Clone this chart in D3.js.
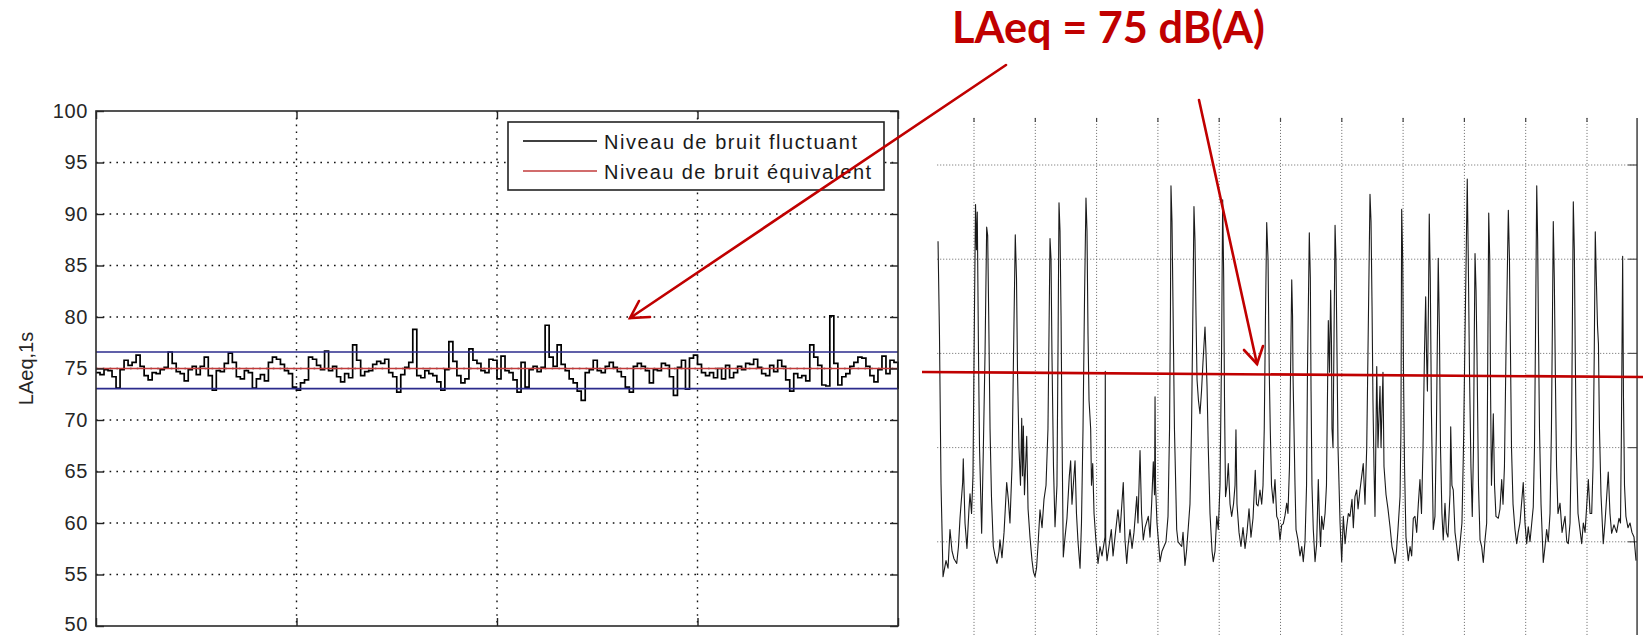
<!DOCTYPE html>
<html><head><meta charset="utf-8">
<script src="https://cdn.jsdelivr.net/npm/d3@7"></script>
<style>body{margin:0;background:#fff}svg{display:block}</style>
</head><body><svg id="c" width="1643" height="635"></svg>
<script>
// ---------- DATA ----------
const titleText = "LAeq = 75 dB(A)";
const yAxisLabel = "LAeq,1s";
const legendLabels = ["Niveau de bruit fluctuant", "Niveau de bruit équivalent"];
const leftYTicks = [50,55,60,65,70,75,80,85,90,95,100];
const leftXTicks = [0,50,100,150,200];
const equivalentLevel = 75;
const bandUpper = 76.6;
const bandLower = 73.05;
// LAeq,1s fluctuating level (1 value per step)
const fluctuating = [
74.6,74.4,74.9,74.8,74.2,73.1,74.9,75.8,75.3,75.6,
76.3,75.2,74.3,73.9,74.6,74.5,74.9,75.1,76.6,75.5,
74.7,74.5,73.8,74.9,75.2,74.4,75.2,76.1,74.3,72.9,
74.8,74.7,75.5,76.5,75.6,74.2,74.0,74.8,74.6,73.1,
74.0,74.4,73.8,75.6,76.1,75.9,75.4,74.8,74.5,73.2,
72.9,73.6,73.9,76.1,75.9,75.3,74.9,76.7,74.8,75.2,
74.2,73.7,74.5,74.1,77.3,75.8,74.3,74.7,
74.8,75.4,75.7,75.5,75.9,74.6,74.2,72.7,74.4,75.1,
75.6,78.8,74.3,74.1,74.8,74.5,74.3,73.7,72.9,74.9,
77.6,75.7,74.3,73.6,74.0,76.9,75.8,75.5,74.8,74.6,
75.9,75.8,74.0,76.2,74.8,74.6,73.9,72.7,75.6,73.2,
74.9,75.2,74.7,75.1,79.2,76.1,75.2,77.3,75.4,74.8,
74.0,73.6,72.8,71.9,74.6,74.9,75.8,74.8,74.6,75.2,
75.6,75.1,74.7,74.2,73.2,72.7,75.2,
75.5,75.2,74.8,73.6,74.9,74.8,75.5,75.3,74.2,72.4,
75.1,75.8,73.0,76.0,76.3,75.4,74.6,74.3,74.6,74.1,
75.0,74.0,75.3,74.1,74.6,75.2,74.9,75.5,75.4,75.9,
75.1,74.5,74.3,75.3,74.7,75.8,75.2,73.9,72.8,74.5,
74.1,74.3,73.8,77.3,76.1,75.3,73.4,73.3,80.1,75.5,
73.4,74.2,74.5,75.2,75.6,76.1,76.0,75.2,74.3,73.7,
74.9,76.2,74.5,75.8,75.6,73.0
];
// Right panel: time (s) and level (dB)
const rightGridT = [60,120,180,240,300,360,420,480,540,600,660];
const rightGridV = [60,70,80,90,100];
const rightStartT = 24, rightEndT = 709, rightTopV = 105;
const rightTime = [
24.8,26.2,27.7,29.7,32.6,34.6,36.5,38.5,40.4,43.1,
44.8,46.3,48.9,49.5,51.2,53.1,55.1,56.1,57.6,59.0,
60.5,61.5,62.4,63.2,64.4,65.4,67.5,69.1,70.8,72.4,
73.4,74.4,75.7,77.1,78.9,80.6,82.5,84.5,85.4,87.4,
89.4,92.0,93.6,95.2,97.2,98.7,100.4,101.6,102.6,104.0,
105.5,106.7,107.5,108.3,109.4,111.6,112.9,114.8,116.8,118.2,
119.7,121.2,122.6,124.6,126.6,128.5,130.5,132.4,133.4,134.4,
135.4,136.3,137.8,139.3,141.2,142.2,143.2,144.2,145.2,146.1,
147.4,149.1,151.0,153.3,154.6,155.9,158.9,160.3,161.8,163.8,
165.2,166.7,168.2,169.6,170.6,171.6,172.6,174.2,175.0,176.2,
177.5,179.4,181.4,183.3,185.3,187.2,188.2,188.5,188.9,190.2,
192.1,194.4,196.1,198.0,200.9,202.9,206.1,207.8,209.5,210.7,
212.7,214.7,216.6,219.3,220.5,222.5,224.0,225.7,227.4,230.6,
232.3,233.9,235.5,236.7,237.2,237.7,239.1,242.1,244.0,247.9,
249.9,251.4,252.3,252.8,253.8,254.8,256.2,258.4,259.7,263.3,
264.6,266.5,268.0,269.8,271.4,272.9,274.4,275.3,276.3,277.3,
278.3,279.7,281.2,282.7,284.1,286.1,287.1,288.1,289.3,291.0,
293.0,294.2,295.9,297.6,299.1,300.8,302.3,303.4,304.4,305.2,
306.2,307.6,308.9,310.6,312.2,314.0,315.5,316.4,317.4,319.4,
321.3,323.3,325.3,327.2,329.2,331.1,333.1,335.3,336.5,338.0,
339.9,341.6,342.9,344.1,345.3,346.5,347.8,349.0,350.0,351.2,
352.9,354.6,356.3,357.8,359.5,361.2,362.7,364.4,366.1,367.3,
368.8,369.6,371.0,371.8,372.2,373.2,374.2,375.2,377.1,379.1,
380.8,382.3,384.0,385.5,386.4,388.2,389.2,389.9,390.8,392.1,
393.8,395.4,397.0,398.2,399.2,400.3,401.9,403.6,405.0,406.8,
408.0,409.1,409.9,410.4,411.4,412.4,413.4,414.3,415.3,416.3,
418.3,419.9,421.5,423.2,424.8,426.4,428.0,430.0,431.3,432.9,
434.6,435.9,437.8,441.0,442.7,444.4,445.6,447.6,448.6,449.6,
450.5,451.5,452.5,454.2,455.4,457.4,458.4,460.3,461.3,463.3,
465.2,467.2,469.1,471.1,472.1,473.5,475.0,477.0,477.9,478.6,
479.6,480.4,481.4,482.8,485.1,486.8,488.4,490.0,491.6,493.3,
494.9,496.5,498.0,499.5,500.9,502.1,502.9,503.8,504.8,505.6,
506.6,507.7,509.5,511.2,512.6,513.4,514.4,515.6,516.6,518.0,
519.3,521.0,522.4,523.9,525.9,526.6,527.8,529.1,530.8,532.5,
534.0,535.7,537.6,539.1,540.6,541.7,542.8,543.8,545.0,546.4,
547.7,548.9,549.7,550.4,551.4,552.3,553.8,555.3,556.9,558.5,
560.2,561.8,562.6,563.8,564.8,565.6,566.5,568.3,569.5,570.9,
573.2,574.8,576.5,577.8,579.2,580.7,583.0,584.1,585.1,586.1,
587.6,589.5,591.2,592.7,594.4,597.6,599.3,601.0,602.5,604.2,
607.4,608.6,609.6,610.8,611.7,612.5,613.5,615.0,617.2,618.9,
620.5,622.1,623.8,625.2,626.2,627.0,628.0,629.0,630.2,631.6,
633.6,635.6,638.5,640.2,641.7,643.4,644.9,645.8,646.6,647.6,
648.5,649.5,651.2,654.8,656.4,658.1,661.3,663.0,664.6,665.9,
667.1,668.1,669.1,670.3,671.2,672.2,673.7,675.9,677.6,680.8,
682.5,684.1,686.4,689.0,691.3,692.8,693.7,694.9,695.7,696.7,
698.1,700.1,702.1,704.0,706.0,708.0
];
const rightLevel = [
91.9,82,66.2,56.3,58.0,57.2,61.3,59.0,58.2,57.7,
59.5,62.5,66.3,68.8,62.0,59.3,63.5,65.1,63.0,67,
85,95.8,91,95.0,80,70,60.9,69.6,80,93.4,
92.5,84,72,64.8,59.5,58.5,57.7,59.0,60.2,58.3,
61,66.3,64.5,62,68,80,92.6,88,78,70,
66,73.1,67,72.3,65,71.2,63.5,60.5,58.0,56.8,
56.3,57.2,59.5,63.4,61.5,64.5,66,72,82,92.2,
90,80,68,61.6,66,80,96.0,93,84,72,
58.4,60.5,62.5,67.0,68.6,64,68.6,63,60,57.2,
62,72,86,96.5,93,82,75,72.0,66,68.3,
63,60,57.7,59.5,58.5,59.8,60.5,78.1,60.0,58.0,
59.5,61.3,58.5,60.5,63.4,61,66.3,60.2,57.7,59.5,
61.3,59.3,61.0,64.8,62,69.7,63,60.2,61.5,62.7,
60.5,64.1,68.5,65,75.4,66,62,57.9,59,60,
62.7,72,85,97.8,94,85,72,61.3,60,59.5,
61,57.5,59,61.6,64,72,86,95.6,92,84,
77.2,75,73.6,76,79,82.8,80,76.5,70,63,
59,57.9,59,62.7,61.3,66,80,96.3,88,75,
64.8,66,68.3,64,62.7,64,66,71.9,64,61,
59.5,61.5,59.3,61,63.5,60.5,62.5,67.6,64,63.8,
65.5,64.0,66,72,84,93.9,90,78,71.9,66,
64.1,66.6,62.7,62.3,60.2,61.8,61.9,62.8,64.1,63,
68,76,87.8,84,78,72,66,61.3,60.2,58.5,
59.5,57.9,60,66,78,92.8,88,76,66,61.3,
57.9,59.8,66.6,62,59.5,62.7,61.3,63.0,66,83.5,
78,86.7,81,72,70,82,93.6,90,80,70,
62,57.9,62.7,59.8,61.6,63.0,62.7,64.5,61.5,64.8,
65.5,63.5,65.5,68.3,64,70,80,96.9,94,85,
75,68,62.7,78.6,70,76.5,70,78.0,68,65,
63.5,61.6,59.5,58.5,57.7,59,61.3,64.8,72,95.3,
90,78,68,60.5,58.0,59.5,58.5,62.5,62.7,61,
64,66.6,63,70,80,86.0,80,76,85,94.8,
88,74,61.3,62.7,72,80,90.1,82,70,63,
60.2,64.1,61,60.5,65,72.2,66,65.5,61,59.5,
58.0,59.8,62,70,82,90,98.5,90,78,68,
62.7,70,82,90.6,86.7,80,66,60.2,59.5,57.8,
60.2,62,75,94.9,90,76,66,73.6,66,62.7,
62.5,63.5,66.6,64,68,80,95.2,90,80,70,
64,61.3,59.8,61,62,66.3,62,59.8,61.6,60.0,
63.7,70,82,97.8,92,82,72,64,57.8,59.5,
61.3,60,63,72,84,94.0,88,78,68,63,
64.1,61,62.7,60,59.8,62,72,85,96.1,91,
80,70,63,59.8,62,61,66.6,63,63.0,68,
80,92.9,88,82.9,81,72,65,59.8,62,67.4,
63,60.9,61.8,61.0,62.5,62.0,72,90.3,75.4,66,
62.7,61.5,62.0,61.0,60.5,58.0
];
// Hand-drawn annotation overlay (page coordinates)
const laeqLine = [[922,372],[1643,377]];
const arrows = [
  {from:[1006,65], to:[630,318], armA:[650,317], armB:[639,301]},
  {from:[1199,100], to:[1257,364], armA:[1244,350], armB:[1263,346]}
];

// ---------- DRAW ----------
const svg = d3.select("#c");
const FONT = "'Liberation Sans', Arial, Helvetica, sans-serif";
const RED = "#c00000";

// Left panel scales
const xL = d3.scaleLinear().domain([0, 200]).range([96, 898]);
const yL = d3.scaleLinear().domain([50, 100]).range([626, 111]);
const gL = svg.append("g");

// grid
gL.append("g").selectAll("line").data(leftYTicks.filter(v => v > 50 && v < 100)).join("line")
  .attr("x1", xL(0)).attr("x2", xL(200)).attr("y1", d => yL(d)).attr("y2", d => yL(d))
  .attr("stroke", "#111").attr("stroke-width", 1.4).attr("stroke-dasharray", "1.6,5.2");
gL.append("g").selectAll("line").data(leftXTicks.filter(v => v > 0 && v < 200)).join("line")
  .attr("x1", d => xL(d)).attr("x2", d => xL(d)).attr("y1", yL(100)).attr("y2", yL(50))
  .attr("stroke", "#111").attr("stroke-width", 1.4).attr("stroke-dasharray", "1.6,5.2");

// data
const n = fluctuating.length;
const lineL = d3.line().x((d, i) => xL(i * 200 / (n - 1))).y(d => yL(d)).curve(d3.curveStepAfter);
gL.append("path").datum(fluctuating).attr("d", lineL)
  .attr("fill", "none").attr("stroke", "#000").attr("stroke-width", 1.7);
gL.append("line").attr("x1", xL(0)).attr("x2", xL(200))
  .attr("y1", yL(equivalentLevel)).attr("y2", yL(equivalentLevel))
  .attr("stroke", "#c23b3b").attr("stroke-width", 1.6);
gL.selectAll("line.band").data([bandUpper, bandLower]).join("line").attr("class", "band")
  .attr("x1", xL(0)).attr("x2", xL(200)).attr("y1", d => yL(d)).attr("y2", d => yL(d))
  .attr("stroke", "#2b2b8c").attr("stroke-width", 1.6);

// axes (inward ticks, MATLAB style)
function styleAxis(g) {
  g.select(".domain").remove();
  g.selectAll(".tick line").attr("stroke", "#222").attr("stroke-width", 1.4);
  g.selectAll(".tick text").attr("fill", "#262626").style("font-family", FONT)
    .style("font-size", "20px").attr("letter-spacing", "0.6");
}
gL.append("g").attr("transform", `translate(${xL(0)},0)`)
  .call(d3.axisLeft(yL).tickValues(leftYTicks).tickSize(-8).tickPadding(8).tickFormat(d3.format("d")))
  .call(styleAxis)
  .call(g => g.selectAll(".tick text").filter(d => d === 50).attr("dy", "0.2em"));
gL.append("g").attr("transform", `translate(${xL(200)},0)`)
  .call(d3.axisRight(yL).tickValues(leftYTicks).tickSize(-8).tickFormat("")).call(styleAxis);
gL.append("g").attr("transform", `translate(0,${yL(100)})`)
  .call(d3.axisTop(xL).tickValues(leftXTicks).tickSize(-8).tickFormat("")).call(styleAxis);
gL.append("g").attr("transform", `translate(0,${yL(50)})`)
  .call(d3.axisBottom(xL).tickValues(leftXTicks).tickSize(-8).tickFormat("")).call(styleAxis);

// frame
gL.append("rect").attr("x", xL(0)).attr("y", yL(100))
  .attr("width", xL(200) - xL(0)).attr("height", yL(50) - yL(100))
  .attr("fill", "none").attr("stroke", "#2a2a2a").attr("stroke-width", 1.6);

// y label
gL.append("text").attr("transform", `translate(33,${(yL(50) + yL(100)) / 2}) rotate(-90)`)
  .attr("text-anchor", "middle").style("font-family", FONT).style("font-size", "20px")
  .attr("fill", "#262626").text(yAxisLabel);

// legend
const lg = gL.append("g");
lg.append("rect").attr("x", 508).attr("y", 122).attr("width", 376).attr("height", 68)
  .attr("fill", "#fff").attr("stroke", "#222").attr("stroke-width", 1.6);
const legendColors = ["#000", "#c23b3b"];
const legendWidths = [253, 267];
legendLabels.forEach((lab, i) => {
  const y = 141 + i * 30;
  lg.append("line").attr("x1", 523).attr("x2", 597).attr("y1", y).attr("y2", y)
    .attr("stroke", legendColors[i]).attr("stroke-width", 1.5);
  lg.append("text").attr("x", 604).attr("y", y + 7.5)
    .attr("textLength", legendWidths[i]).attr("lengthAdjust", "spacing")
    .style("font-family", FONT).style("font-size", "20px").attr("fill", "#1a1a1a").text(lab);
});

// Right panel
const xR = d3.scaleLinear().domain([60, 660]).range([974, 1587]);
const yR = d3.scaleLinear().domain([50, 100]).range([636, 165]);
const gR = svg.append("g");
gR.append("g").selectAll("line").data(rightGridT).join("line")
  .attr("x1", d => xR(d)).attr("x2", d => xR(d)).attr("y1", yR(rightTopV)).attr("y2", 636)
  .attr("stroke", "#666").attr("stroke-width", 1).attr("stroke-dasharray", "1,2");
gR.append("g").selectAll("line").data(rightGridV).join("line")
  .attr("x1", xR(rightStartT)).attr("x2", xR(rightEndT)).attr("y1", d => yR(d)).attr("y2", d => yR(d))
  .attr("stroke", "#666").attr("stroke-width", 1).attr("stroke-dasharray", "1,2");
// ticks
gR.append("g").selectAll("line").data(rightGridT).join("line")
  .attr("x1", d => xR(d)).attr("x2", d => xR(d)).attr("y1", yR(rightTopV)).attr("y2", yR(rightTopV) + 4)
  .attr("stroke", "#444").attr("stroke-width", 1.2);
gR.append("g").selectAll("line").data(rightGridV).join("line")
  .attr("x1", xR(rightEndT) - 9).attr("x2", xR(rightEndT)).attr("y1", d => yR(d)).attr("y2", d => yR(d))
  .attr("stroke", "#555").attr("stroke-width", 1.2);
gR.append("line").attr("x1", xR(rightEndT)).attr("x2", xR(rightEndT))
  .attr("y1", yR(rightTopV)).attr("y2", 636).attr("stroke", "#333").attr("stroke-width", 1.4);

const nR = Math.min(rightTime.length, rightLevel.length);
const ptsR = d3.range(nR).map(i => [rightTime[i], rightLevel[i]]);
gR.append("path").datum(ptsR)
  .attr("d", d3.line().x(d => xR(d[0])).y(d => yR(d[1])))
  .attr("fill", "none").attr("stroke", "#1a1a1a").attr("stroke-width", 1.1)
  .attr("stroke-linejoin", "round");

// Annotations
const ga = svg.append("g");
ga.append("line").attr("x1", laeqLine[0][0]).attr("y1", laeqLine[0][1])
  .attr("x2", laeqLine[1][0]).attr("y2", laeqLine[1][1])
  .attr("stroke", RED).attr("stroke-width", 2.6);
arrows.forEach(a => {
  ga.append("line").attr("x1", a.from[0]).attr("y1", a.from[1]).attr("x2", a.to[0]).attr("y2", a.to[1])
    .attr("stroke", RED).attr("stroke-width", 2.6).attr("stroke-linecap", "round");
  ga.append("path").attr("d", d3.line()([a.armA, a.to, a.armB]))
    .attr("fill", "none").attr("stroke", RED).attr("stroke-width", 2.6)
    .attr("stroke-linecap", "round").attr("stroke-linejoin", "miter");
});
ga.append("text").attr("x", 952).attr("y", 43)
  .attr("textLength", 313).attr("lengthAdjust", "spacingAndGlyphs")
  .style("font-family", "Lato, 'Open Sans', 'Liberation Sans', sans-serif")
  .style("font-weight", "700").style("font-size", "43px").attr("fill", RED).text(titleText);
</script></body></html>
